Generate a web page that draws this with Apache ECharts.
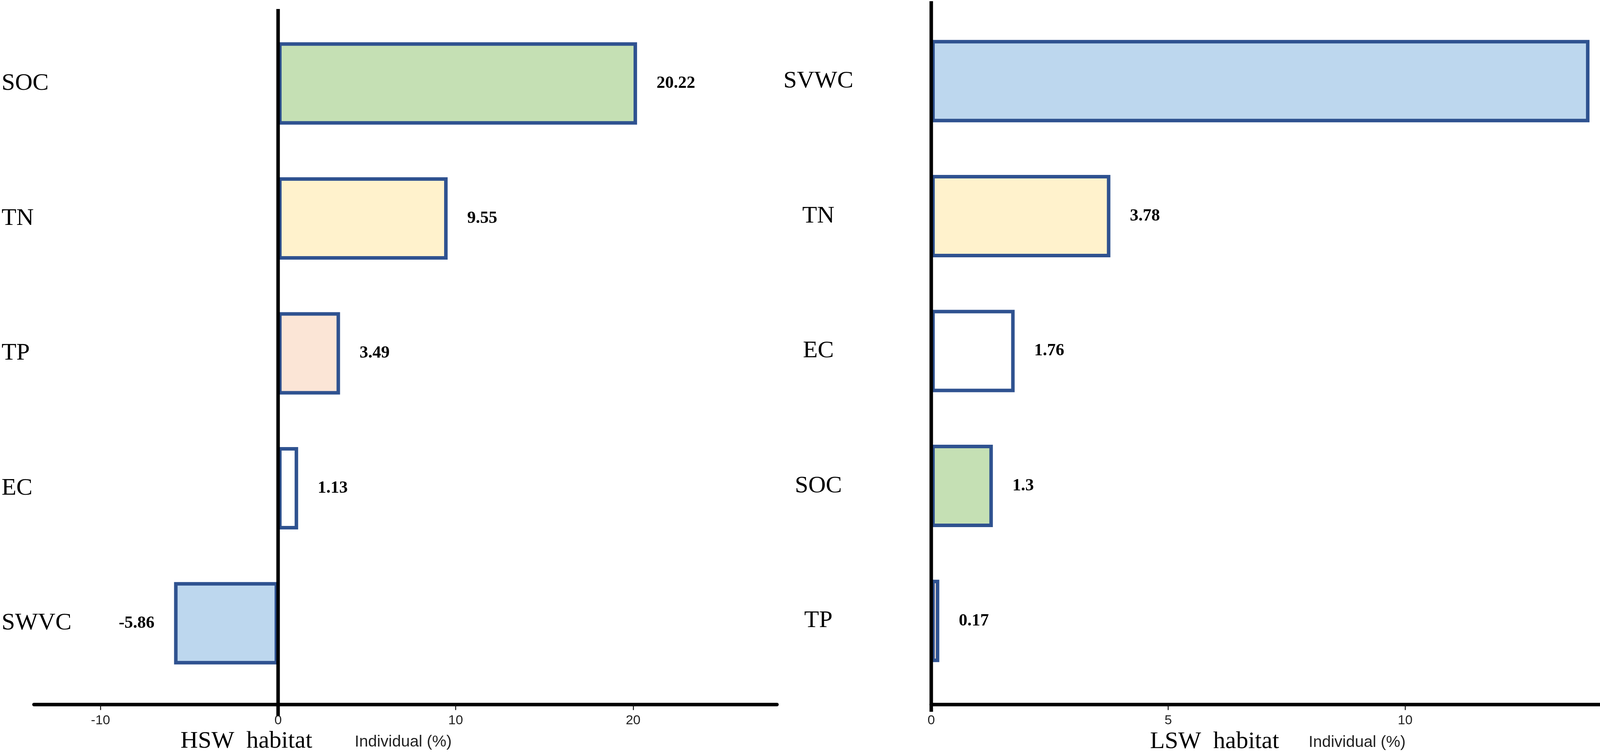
<!DOCTYPE html>
<html lang="en">
<head>
  <meta charset="utf-8" />
  <title>HSW / LSW habitat individual effects</title>
  <style>
    html, body { margin: 0; padding: 0; background: #fff; }
    #chart { width: 4594px; height: 1926px; }
  </style>
  <script src="https://cdn.jsdelivr.net/npm/echarts@6/dist/echarts.min.js"></script>
</head>
<body>
<div id="chart"></div>
<script type="text/javascript">
    // categories and values, top to bottom as printed
    var leftCats = ['SOC', 'TN', 'TP', 'EC', 'SWVC'];
    var leftVals = [20.22, 9.55, 3.49, 1.13, -5.86];
    var rightCats = ['SVWC', 'TN', 'EC', 'SOC', 'TP'];
    var rightVals = [13.89, 3.78, 1.76, 1.3, 0.17];
    var leftTicks = [-10, 0, 10, 20];
    var rightTicks = [0, 5, 10, 15];

    // fill colour per variable
    var fillColor = {
        SOC: '#c5e0b4',
        TN: '#fff2cc',
        TP: '#fbe5d6',
        EC: '#ffffff',
        SWVC: '#bdd7ee',
        SVWC: '#bdd7ee'
    };

    var BORDER = '#2f5290';
    var SERIF = '"Liberation Serif", "Times New Roman", serif';
    var SANS = '"Liberation Sans", Arial, sans-serif';

    var chart = echarts.init(document.getElementById('chart'));

    function barData(cats, vals) {
        return vals.map(function (v, i) {
            return {
                value: v,
                itemStyle: { color: fillColor[cats[i]] },
                label: { position: v < 0 ? 'left' : 'right' }
            };
        });
    }

    function valueAxis(gridIndex, min, max, ticks, offset) {
        return {
            type: 'value',
            gridIndex: gridIndex,
            min: min,
            max: max,
            offset: offset,
            splitLine: { show: false },
            axisLine: { show: true, onZero: false, lineStyle: { color: '#000', width: 9 } },
            axisTick: { show: true, length: 14, customValues: ticks, lineStyle: { color: '#111', width: 2.5 } },
            axisLabel: {
                customValues: ticks,
                margin: 24,
                color: '#222',
                fontSize: 34,
                fontFamily: SANS
            }
        };
    }

    function catAxis(gridIndex, cats, margin, align) {
        return {
            type: 'category',
            gridIndex: gridIndex,
            data: cats,
            inverse: true,
            axisLine: { show: false, onZero: false },
            axisTick: { show: false },
            axisLabel: {
                margin: margin,
                align: align,
                verticalAlign: 'middle',
                padding: [0, 0, 22, 0],
                color: '#000',
                fontSize: 62,
                fontFamily: SERIF
            }
        };
    }

    function barSeries(idx, cats, vals) {
        return {
            type: 'bar',
            xAxisIndex: idx,
            yAxisIndex: idx,
            barWidth: 211,
            data: barData(cats, vals),
            itemStyle: { borderColor: BORDER, borderWidth: 9 },
            label: {
                show: true,
                distance: 50,
                color: '#000',
                fontSize: 44,
                fontWeight: 'bold',
                fontFamily: SERIF,
                padding: [14, 0, 0, 0]
            }
        };
    }

    var option = {
        animation: false,
        backgroundColor: '#fff',
        grid: [
            { left: 87, right: 2605, top: 41, bottom: 157, containLabel: false, outerBoundsMode: 'none' },
            { left: 2384, right: 2, top: 35, bottom: 163, containLabel: false, outerBoundsMode: 'none' }
        ],
        xAxis: [
            valueAxis(0, -13.75, 28.1, leftTicks, 35.5),
            valueAxis(1, 0, 18.2, rightTicks, 41.5)
        ],
        yAxis: [
            catAxis(0, leftCats, 83, 'left'),
            catAxis(1, rightCats, 289, 'center')
        ],
        series: [
            barSeries(0, leftCats, leftVals),
            barSeries(1, rightCats, rightVals)
        ]
    };
    chart.setOption(option);

    // vertical zero lines run a little past the bar area, as in the figure
    var zeroL = chart.convertToPixel({ xAxisIndex: 0 }, 0);
    var zeroR = chart.convertToPixel({ xAxisIndex: 1 }, 0);

    chart.setOption({
        graphic: [
            { type: 'line', z: 100, shape: { x1: zeroL, y1: 23, x2: zeroL, y2: 1833 }, style: { stroke: '#000', lineWidth: 9 } },
            { type: 'line', z: 100, shape: { x1: zeroR, y1: 3, x2: zeroR, y2: 1823 }, style: { stroke: '#000', lineWidth: 9 } },
            { type: 'text', left: 462, top: 1868, style: { text: 'HSW  habitat', fill: '#000', font: '62px ' + SERIF } },
            { type: 'text', left: 908, top: 1880, style: { text: 'Individual (%)', fill: '#222', font: '41px ' + SANS } },
            { type: 'text', left: 2944, top: 1869, style: { text: 'LSW  habitat', fill: '#000', font: '62px ' + SERIF } },
            { type: 'text', left: 3350, top: 1881, style: { text: 'Individual (%)', fill: '#222', font: '41px ' + SANS } }
        ]
    });
</script>
</body>
</html>
